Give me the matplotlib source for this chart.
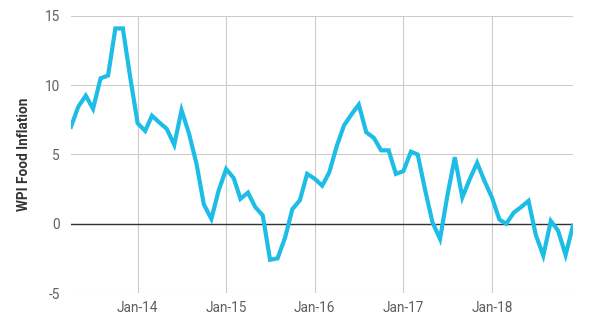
import numpy as np
import pandas as pd
import matplotlib
matplotlib.use("Agg")
import matplotlib.pyplot as plt
import matplotlib.dates as mdates

# monthly WPI food inflation, Apr 2013 - Dec 2018
months = pd.date_range("2013-04-01", "2018-12-01", freq="MS")
wpi_food = [
    7.0, 8.45, 9.25, 8.3, 10.5, 10.7, 14.1, 14.1, 10.6,          # 2013
    7.25, 6.7, 7.8, 7.3, 6.85, 5.7, 8.2, 6.5, 4.3, 1.4, 0.35, 2.4,  # 2014
    3.95, 3.3, 1.8, 2.25, 1.2, 0.6, -2.6, -2.5, -1.0, 1.05, 1.7, 3.6,  # 2015
    3.25, 2.75, 3.7, 5.6, 7.1, 7.9, 8.6, 6.6, 6.2, 5.3, 5.3, 3.6,  # 2016
    3.8, 5.2, 5.0, 2.4, 0.1, -1.1, 2.0, 4.8, 1.9, 3.2, 4.4, 3.1,  # 2017
    1.9, 0.3, 0.0, 0.8, 1.2, 1.65, -0.8, -2.3, 0.2, -0.5, -2.25, -0.15,  # 2018
]
y_ticks = [-5, 0, 5, 10, 15]

plt.rcParams['font.family'] = ['Roboto', 'DejaVu Sans']
plt.rcParams['axes.unicode_minus'] = False

fig = plt.figure(figsize=(5.9, 3.26), dpi=100)
ax = fig.add_axes([0.1203, 0.1012, 0.8507, 0.8498])

ax.plot(months, wpi_food, color='#1dbde6', linewidth=3.0, solid_joinstyle='miter', zorder=3)
ax.axhline(0, color='#333333', linewidth=1.0, zorder=2)

ax.set_xlim(months[0], months[-1])
ax.set_ylim(-5, 15)
ax.set_yticks(y_ticks)
ax.xaxis.set_major_locator(mdates.YearLocator(month=1, day=1))
ax.xaxis.set_major_formatter(mdates.DateFormatter('%b-%y'))

ax.grid(True, color='#cccccc', linewidth=0.8, zorder=1)
for s in ax.spines.values():
    s.set_visible(False)
ax.tick_params(length=0, labelsize=9.8, labelcolor='#5f5f5f')
ax.tick_params(axis='x', pad=6)
ax.tick_params(axis='y', pad=8)

ax.set_ylabel("WPI Food Inflation", fontsize=9.8, fontweight='bold', color='#333333', labelpad=10)

fig.savefig("out.png", dpi=100)
